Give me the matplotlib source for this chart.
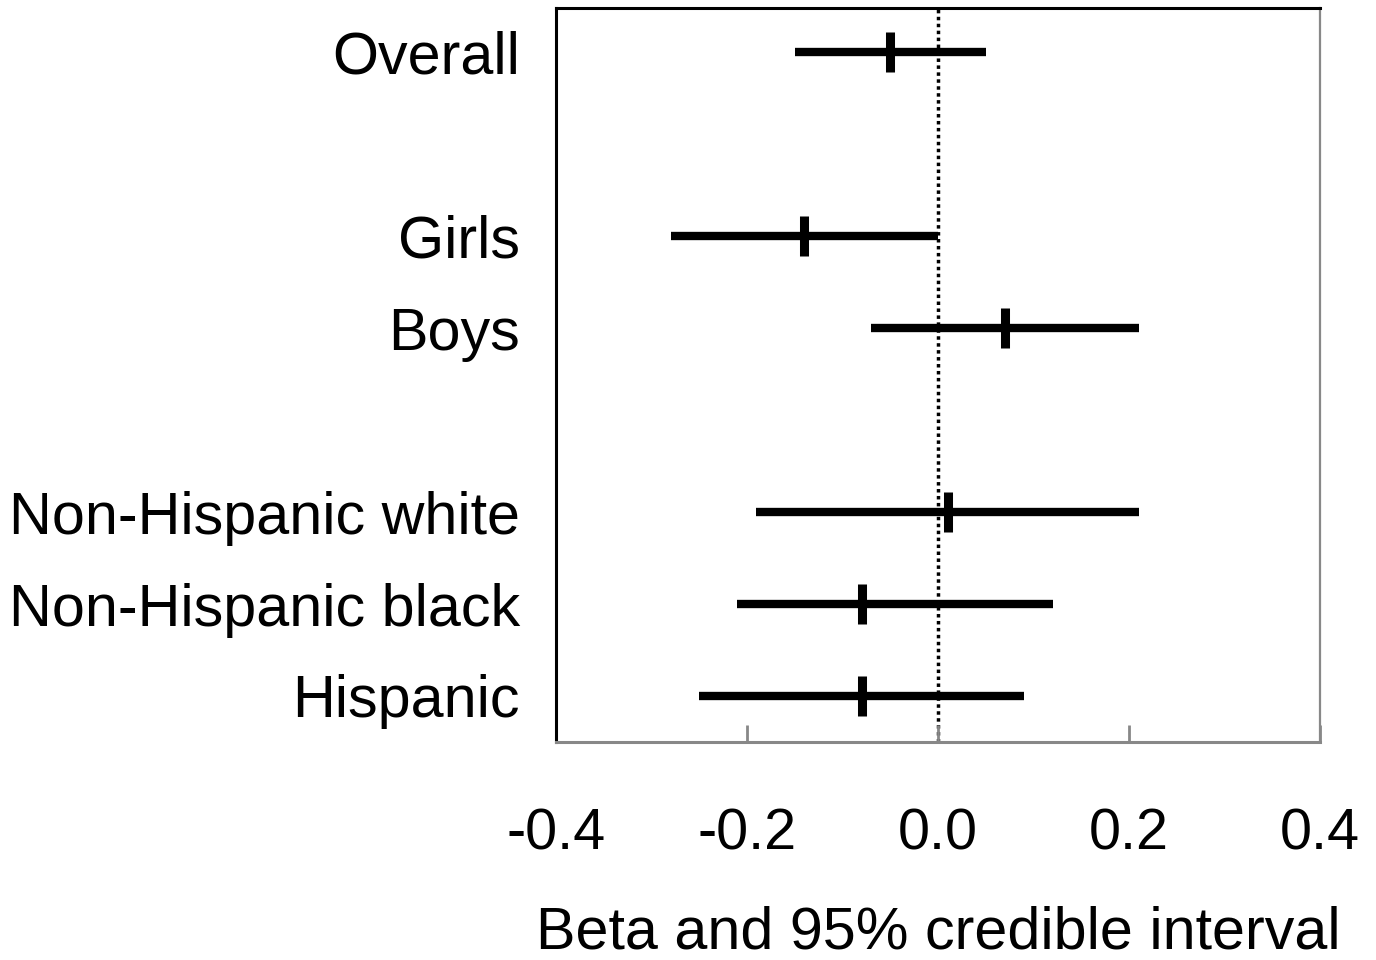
import numpy as np
import matplotlib.pyplot as plt

plt.rcParams['font.family'] = ['Liberation Sans', 'DejaVu Sans']

# Data
labels = ['Overall', 'Girls', 'Boys', 'Non-Hispanic white', 'Non-Hispanic black', 'Hispanic']
group = [0, 1, 1, 2, 2, 2]
beta = [-0.05, -0.14, 0.07, 0.01, -0.08, -0.08]
lower = [-0.15, -0.28, -0.07, -0.19, -0.21, -0.25]
upper = [0.05, 0.00, 0.21, 0.21, 0.12, 0.09]
xticks = [-0.4, -0.2, 0.0, 0.2, 0.4]

# one blank row between groups
ypos = np.arange(len(labels)) + np.array(group)

fig = plt.figure(figsize=(13.76, 9.6), dpi=100)
ax = fig.add_axes([0.404, 0.2271, 0.9593 - 0.404, 0.9917 - 0.2271])

# Reference line at zero
ax.axvline(0, color='black', linestyle=(0, (1, 1)), linewidth=2.5, zorder=1)

# Intervals and point estimates
ax.hlines(ypos, lower, upper, color='black', linewidth=6.0, capstyle='butt', zorder=2)
ax.plot(beta, ypos, linestyle='none', marker='|', markersize=29,
        markeredgewidth=6.5, color='black', zorder=3)

ax.set_xlim(-0.4, 0.4)
ax.set_ylim(7.5, -0.48)
ax.set_xticks(xticks)
ax.set_xticklabels([f'{v:.1f}' for v in xticks])
ax.set_yticks(ypos)
ax.set_yticklabels(labels)

ax.tick_params(axis='x', direction='in', length=12, width=2, color='#888888',
               labelsize=41.5, pad=47)
ax.tick_params(axis='y', length=0, labelsize=42.7, pad=26)

ax.spines['top'].set_color('black')
ax.spines['top'].set_linewidth(2.2)
ax.spines['left'].set_color('black')
ax.spines['left'].set_linewidth(2.2)
ax.spines['right'].set_color('#888888')
ax.spines['right'].set_linewidth(1.6)
ax.spines['bottom'].set_color('#888888')
ax.spines['bottom'].set_linewidth(2.2)

ax.set_xlabel('Beta and 95% credible interval', fontsize=42.7, labelpad=32)

fig.savefig('out.png', dpi=100)
